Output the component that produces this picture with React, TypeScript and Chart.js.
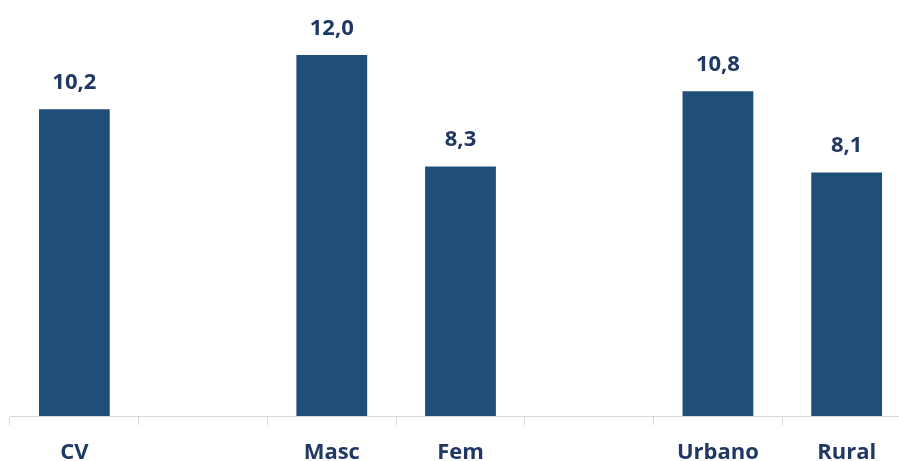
import React, { useEffect, useRef } from "react";
import { Chart, registerables } from "chart.js";

Chart.register(...registerables);

const categories = ["CV", "", "Masc", "Fem", "", "Urbano", "Rural"];
const rates: (number | null)[] = [10.2, null, 12.0, 8.3, null, 10.8, 8.1];

const BAR_COLOR = "#1f4e79";
const TEXT_COLOR = "#1f3864";
const AXIS_COLOR = "#d9d9d9";
const FONT = "'Open Sans', 'Noto Sans', sans-serif";

const formatRate = (v: number) => v.toFixed(1).replace(".", ",");

// Writes each bar's value just above the bar
const valueLabels = {
  id: "valueLabels",
  afterDatasetsDraw(chart: any) {
    const ctx = chart.ctx;
    const meta = chart.getDatasetMeta(0);
    const data = chart.data.datasets[0].data as (number | null)[];
    ctx.save();
    ctx.fillStyle = TEXT_COLOR;
    ctx.font = `bold 22px ${FONT}`;
    ctx.textAlign = "center";
    ctx.textBaseline = "alphabetic";
    meta.data.forEach((bar: any, i: number) => {
      const v = data[i];
      if (v == null) return;
      ctx.fillText(formatRate(v), bar.x, bar.y - 20);
    });
    ctx.restore();
  },
};

export default function App() {
  const canvasRef = useRef<HTMLCanvasElement>(null);

  useEffect(() => {
    const canvas = canvasRef.current;
    if (!canvas) return;
    const chart = new Chart(canvas, {
      type: "bar",
      data: {
        labels: categories,
        datasets: [
          {
            data: rates,
            backgroundColor: BAR_COLOR,
            borderWidth: 0,
            barPercentage: 0.55,
            categoryPercentage: 1,
          },
        ],
      },
      options: {
        responsive: false,
        animation: false,
        layout: { padding: { left: 10, right: 1, top: 10, bottom: 0 } },
        plugins: {
          legend: { display: false },
          tooltip: { enabled: false },
        },
        scales: {
          x: {
            offset: true,
            grid: {
              offset: true,
              drawOnChartArea: false,
              drawTicks: true,
              tickLength: 9,
              color: AXIS_COLOR,
            },
            border: { display: true, color: AXIS_COLOR, width: 1 },
            ticks: {
              color: TEXT_COLOR,
              font: { family: FONT, size: 22, weight: "bold" },
              padding: 15,
              maxRotation: 0,
              autoSkip: false,
            },
            afterFit: (scale: any) => {
              scale.height = 45;
            },
          },
          y: {
            display: false,
            min: 0,
            max: 13.5,
          },
        },
      },
      plugins: [valueLabels],
    });
    return () => chart.destroy();
  }, []);

  return (
    <div
      style={{
        position: "fixed",
        left: 0,
        top: 0,
        width: 899,
        height: 461,
        overflow: "hidden",
        background: "#ffffff",
      }}
    >
      <canvas ref={canvasRef} width={912} height={461} style={{ display: "block" }} />
    </div>
  );
}
